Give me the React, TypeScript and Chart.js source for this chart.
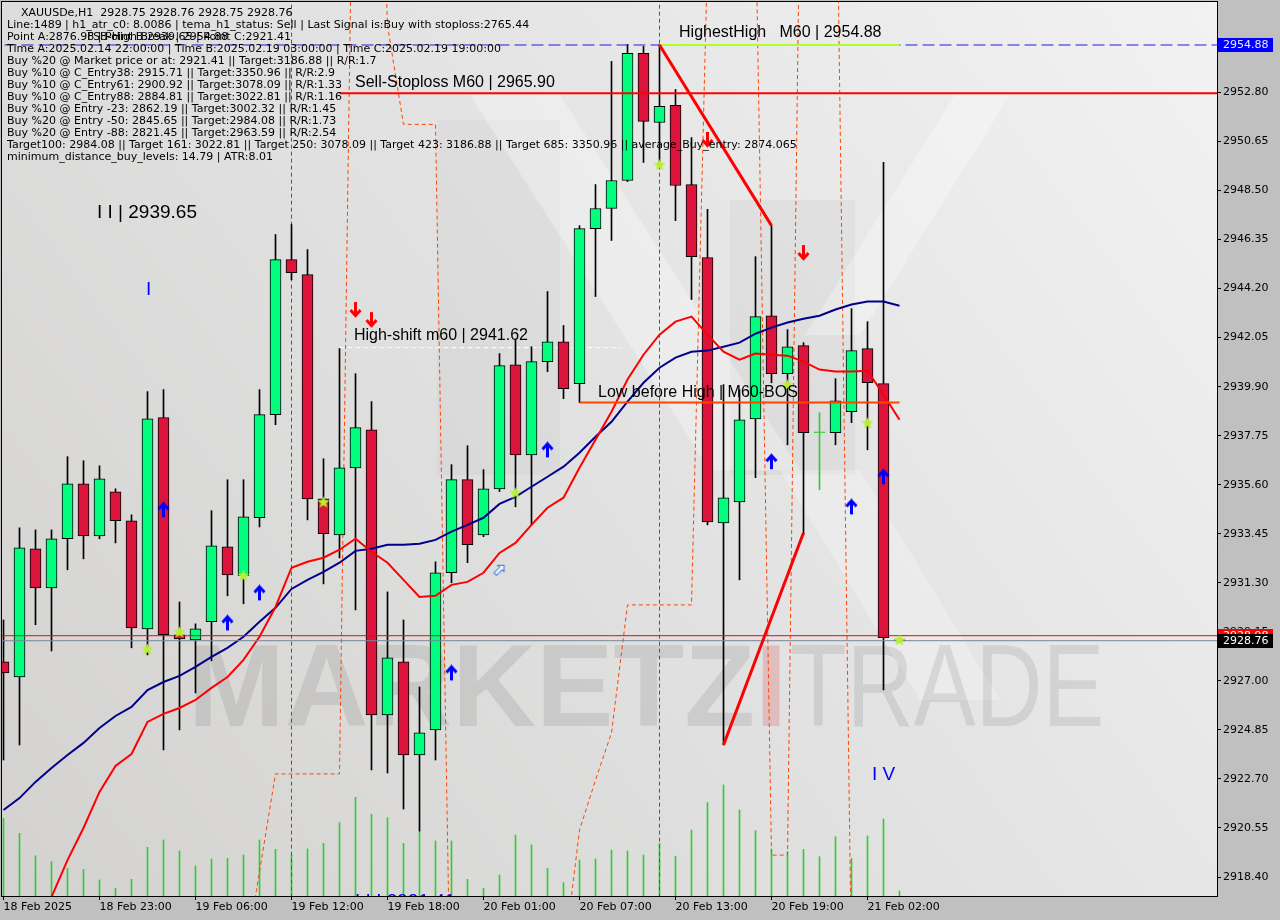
import React, { useEffect, useRef } from "react";
import { Chart, registerables } from "chart.js";

Chart.register(...registerables);

// ---------------- data ----------------
const timeTickIndex = [0, 6, 12, 18, 24, 30, 36, 42, 48, 54];
const timeTickLabels = [
  "18 Feb 2025", "18 Feb 23:00", "19 Feb 06:00", "19 Feb 12:00", "19 Feb 18:00",
  "20 Feb 01:00", "20 Feb 07:00", "20 Feb 13:00", "20 Feb 19:00", "21 Feb 02:00",
];

const priceTicks = [
  2918.4, 2920.55, 2922.7, 2924.85, 2927.0, 2929.15, 2931.3, 2933.45, 2935.6,
  2937.75, 2939.9, 2942.05, 2944.2, 2946.35, 2948.5, 2950.65, 2952.8,
];

const opens = [
  2927.83, 2927.17, 2932.79, 2931.08, 2933.23, 2935.64, 2933.36, 2935.29, 2934.02, 2929.28,
  2938.54, 2929.02, 2928.8, 2929.59, 2932.88, 2931.61, 2934.15, 2938.67, 2945.47, 2944.81,
  2934.98, 2933.4, 2936.34, 2938.01, 2925.51, 2927.83, 2923.75, 2924.85, 2931.74, 2935.82,
  2933.4, 2935.42, 2940.86, 2936.91, 2941.0, 2941.87, 2940.03, 2946.83, 2947.71, 2948.94,
  2954.51, 2951.48, 2952.23, 2948.76, 2945.56, 2933.93, 2934.85, 2938.49, 2943.01, 2940.47,
  2941.7, 2937.88, 2937.88, 2938.8, 2941.57, 2940.03, 2928.75,
];
const highs = [
  2929.67, 2933.71, 2933.62, 2933.62, 2936.83, 2936.65, 2936.43, 2935.42, 2934.28, 2939.68,
  2939.77, 2930.46, 2929.5, 2934.46, 2935.82, 2935.82, 2939.77, 2946.57, 2947.01, 2945.91,
  2936.74, 2941.57, 2940.47, 2939.24, 2930.9, 2929.67, 2926.73, 2932.22, 2936.48, 2937.31,
  2936.26, 2941.35, 2941.96, 2941.65, 2944.07, 2942.58, 2946.96, 2948.76, 2954.16, 2954.91,
  2954.82, 2954.91, 2952.93, 2950.82, 2947.67, 2939.99, 2939.77, 2945.6, 2946.96, 2942.4,
  2941.83, 2938.76, 2940.25, 2943.32, 2942.75, 2949.73, 2928.76,
];
const lows = [
  2923.53, 2924.19, 2929.46, 2928.31, 2931.87, 2932.35, 2933.23, 2933.05, 2928.45, 2928.14,
  2923.97, 2924.85, 2926.47, 2927.88, 2930.73, 2930.38, 2933.75, 2938.23, 2944.59, 2934.06,
  2931.25, 2932.39, 2930.11, 2923.09, 2922.96, 2921.38, 2920.41, 2923.53, 2931.3, 2932.18,
  2933.32, 2935.3, 2934.63, 2933.84, 2940.56, 2939.37, 2939.2, 2943.85, 2946.31, 2948.89,
  2949.73, 2949.55, 2947.18, 2943.72, 2933.84, 2924.19, 2931.43, 2935.91, 2940.07, 2937.35,
  2933.4, 2935.38, 2937.35, 2938.32, 2937.13, 2926.6, 2928.75,
];
const closes = [
  2927.35, 2932.83, 2931.08, 2933.23, 2935.64, 2933.36, 2935.86, 2934.02, 2929.32, 2938.49,
  2929.02, 2928.84, 2929.28, 2932.92, 2931.65, 2934.19, 2938.67, 2945.47, 2944.9, 2934.98,
  2933.45, 2936.34, 2938.1, 2925.51, 2928.01, 2923.75, 2924.72, 2931.74, 2935.82, 2932.97,
  2935.42, 2940.82, 2936.91, 2941.0, 2941.87, 2939.81, 2946.83, 2947.71, 2948.94, 2954.51,
  2951.53, 2952.19, 2948.72, 2945.6, 2933.97, 2935.03, 2938.45, 2942.97, 2940.47, 2941.65,
  2937.88, 2937.88, 2939.28, 2941.48, 2940.07, 2928.89, 2928.76,
];
const tickVolumes = [
  7770, 6270, 4030, 3430, 2770, 2670, 1600, 770, 1670, 4870,
  5600, 4500, 3000, 3700, 3770, 4100, 5600, 4670, 4170, 4700,
  5270, 7330, 9870, 8170, 7830, 5270, 6430, 5500, 5500, 1670,
  770, 2100, 6100, 5100, 2770, 1330, 3600, 3700, 4600, 4500,
  4100, 5270, 3970, 6600, 9330, 11100, 8600, 6530, 4700, 4430,
  4670, 3930, 5930, 3770, 6000, 7700, 500,
];
const maFast = [
  2912.34, 2914.1, 2915.9, 2917.52, 2919.14, 2920.55, 2922.13, 2923.27, 2923.79, 2925.2,
  2925.55, 2925.81, 2926.16, 2926.69, 2927.17, 2927.92, 2928.93, 2930.24, 2931.96, 2932.22,
  2932.4, 2932.75, 2933.23, 2932.66, 2932.18, 2931.43, 2930.68, 2930.73, 2931.21, 2931.34,
  2931.74, 2932.61, 2933.05, 2933.84, 2934.59, 2935.03, 2936.34, 2937.57, 2938.8, 2940.21,
  2941.3, 2942.18, 2942.75, 2942.97, 2942.18, 2941.43, 2941.08, 2941.35, 2941.3, 2941.26,
  2941.0, 2940.65, 2940.56, 2940.56, 2940.6, 2939.55, 2938.45,
];
const maSlow = [
  2921.34, 2921.86, 2922.57, 2923.18, 2923.75, 2924.28, 2924.93, 2925.46, 2925.86, 2926.6,
  2926.95, 2927.22, 2927.61, 2928.05, 2928.45, 2928.93, 2929.59, 2930.2, 2931.03, 2931.43,
  2931.78, 2932.18, 2932.7, 2932.79, 2932.97, 2932.97, 2933.01, 2933.18, 2933.54, 2933.84,
  2934.15, 2934.76, 2935.07, 2935.51, 2935.95, 2936.39, 2937.0, 2937.7, 2938.36, 2939.24,
  2940.07, 2940.73, 2941.17, 2941.43, 2941.48, 2941.65, 2941.83, 2942.22, 2942.49, 2942.71,
  2942.88, 2943.01, 2943.28, 2943.5, 2943.63, 2943.63, 2943.45,
];
const channel = [
  null, null, null, null, null, null, null, null, null, null,
  null, null, null, null, null, 2914.4, 2918.62, 2922.92, 2922.92, 2922.92,
  2922.92, 2922.92, 2972.3, 2975.0, 2955.74, 2951.4, 2951.4, 2951.4, 2909.8, 2905.0,
  2905.0, 2905.0, 2905.0, 2905.0, 2905.0, 2914.67, 2920.46, 2922.65, 2924.72, 2930.33,
  2930.33, 2930.33, 2930.33, 2930.33, 2958.77, 2965.0, 2965.0, 2960.74, 2919.36, 2919.36,
  2973.95, 2970.0, 2966.7, 2914.3, null, null, null,
];

const upArrowIdx = [10, 14, 16, 28, 34, 48, 53, 55];
const upArrowPrice = [2934.5, 2929.54, 2930.86, 2927.35, 2937.13, 2936.61, 2934.63, 2935.95];
const downArrowIdx = [22, 23, 44, 50];
const downArrowPrice = [2943.28, 2942.84, 2950.74, 2945.78];
const starIdx = [9, 11, 15, 20, 32, 41, 49, 54, 56];
const starPrice = [2928.4, 2929.15, 2931.61, 2934.85, 2935.25, 2949.64, 2939.99, 2938.32, 2928.8];
const hollowIdx = [31];
const hollowPrice = [2931.87];

const sessionBreakIdx = [18, 41];
const highestHigh = 2954.88;
const sellStoploss = 2952.76;
const highShift = 2941.61;
const lowBeforeHigh = 2939.2;
const bidPrice = 2928.76;
const redLevel = 2928.98;
const sellTrendIdx = [41, 48];
const sellTrendPrice = [2954.88, 2946.96];
const buyTrendIdx = [45, 50];
const buyTrendPrice = [2924.19, 2933.49];

const infoLines = [
  "XAUUSDe,H1  2928.75 2928.76 2928.75 2928.76",
  "Line:1489 | h1_atr_c0: 8.0086 | tema_h1_status: Sell | Last Signal is:Buy with stoploss:2765.44",
  "Point A:2876.98 | Point B:2939.65 | Point C:2921.41",
  "Time A:2025.02.14 22:00:00 | Time B:2025.02.19 03:00:00 | Time C:2025.02.19 19:00:00",
  "Buy %20 @ Market price or at: 2921.41 || Target:3186.88 || R/R:1.7",
  "Buy %10 @ C_Entry38: 2915.71 || Target:3350.96 || R/R:2.9",
  "Buy %10 @ C_Entry61: 2900.92 || Target:3078.09 || R/R:1.33",
  "Buy %10 @ C_Entry88: 2884.81 || Target:3022.81 || R/R:1.16",
  "Buy %10 @ Entry -23: 2862.19 || Target:3002.32 || R/R:1.45",
  "Buy %20 @ Entry -50: 2845.65 || Target:2984.08 || R/R:1.73",
  "Buy %20 @ Entry -88: 2821.45 || Target:2963.59 || R/R:2.54",
  "Target100: 2984.08 || Target 161: 3022.81 || Target 250: 3078.09 || Target 423: 3186.88 || Target 685: 3350.96 || average_Buy_entry: 2874.065",
  "minimum_distance_buy_levels: 14.79 | ATR:8.01",
];
const overlayInfo = "FSB-High Break | 2954.88";

const chartNotes = [
  { text: "HighestHigh   M60 | 2954.88", idx: 42.22, price: 2955.41, size: 16, color: "#000000" },
  { text: "Sell-Stoploss M60 | 2965.90", idx: 21.97, price: 2953.21, size: 16, color: "#000000" },
  { text: "High-shift m60 | 2941.62", idx: 21.9, price: 2942.12, size: 16, color: "#000000" },
  { text: "Low before High | M60-BOS", idx: 37.16, price: 2939.66, size: 16, color: "#000000" },
  { text: "I I | 2939.65", idx: 5.84, price: 2947.51, size: 19, color: "#000000" },
  { text: "I", idx: 8.9, price: 2944.14, size: 19, color: "#0000FF" },
  { text: "I V", idx: 54.28, price: 2922.87, size: 19, color: "#0000FF" },
  { text: "I I I 2921.41", idx: 21.97, price: 2917.33, size: 19, color: "#0000FF" },
];

// ---------------- helpers ----------------
const X_MIN = -0.09375;
const X_MAX = 75.84375;
const Y_MIN = 2917.567;
const Y_MAX = 2956.765;

function arrowCanvas(color: string, up: boolean) {
  const c = document.createElement("canvas");
  c.width = 13;
  c.height = 17;
  const g = c.getContext("2d")!;
  if (!up) {
    g.translate(0, 17);
    g.scale(1, -1);
  }
  g.strokeStyle = color;
  g.lineWidth = 3;
  g.beginPath();
  g.moveTo(6.5, 3);
  g.lineTo(6.5, 16);
  g.stroke();
  g.beginPath();
  g.moveTo(1.5, 8);
  g.lineTo(6.5, 2.5);
  g.lineTo(11.5, 8);
  g.stroke();
  return c;
}

function starCanvas() {
  const c = document.createElement("canvas");
  c.width = 14;
  c.height = 14;
  const g = c.getContext("2d")!;
  g.fillStyle = "#B8F02C";
  g.beginPath();
  for (let k = 0; k < 10; k++) {
    const r = k % 2 === 0 ? 6.5 : 2.8;
    const a = -Math.PI / 2 + (k * Math.PI) / 5;
    const px = 7 + r * Math.cos(a);
    const py = 7.5 + r * Math.sin(a);
    if (k === 0) g.moveTo(px, py);
    else g.lineTo(px, py);
  }
  g.closePath();
  g.fill();
  return c;
}

function hollowArrowCanvas() {
  const c = document.createElement("canvas");
  c.width = 16;
  c.height = 16;
  const g = c.getContext("2d")!;
  g.translate(8, 8);
  g.rotate(Math.PI / 4);
  const pts = [[0, -6.5], [4.5, -2], [1.8, -2], [1.8, 6], [-1.8, 6], [-1.8, -2], [-4.5, -2]];
  g.beginPath();
  pts.forEach((p, k) => (k ? g.lineTo(p[0], p[1]) : g.moveTo(p[0], p[1])));
  g.closePath();
  g.fillStyle = "#F4F8FF";
  g.fill();
  g.strokeStyle = "#3A78D8";
  g.lineWidth = 1;
  g.stroke();
  return c;
}

const bgPlugin = {
  id: "mtBackground",
  beforeDraw(chart: any) {
    const { ctx, chartArea: a } = chart;
    ctx.save();
    ctx.fillStyle = "#C0C0C0";
    ctx.fillRect(0, 0, chart.width, chart.height);
    const g = ctx.createLinearGradient(a.left, a.bottom, a.right, a.top);
    g.addColorStop(0, "#D3D2D0");
    g.addColorStop(0.45, "#E0E0E0");
    g.addColorStop(1, "#F2F2F2");
    ctx.fillStyle = g;
    ctx.fillRect(a.left, a.top, a.right - a.left, a.bottom - a.top);
    ctx.beginPath();
    ctx.rect(a.left, a.top, a.right - a.left, a.bottom - a.top);
    ctx.clip();
    const poly = (pts: number[][], fill: string) => {
      ctx.beginPath();
      pts.forEach((p, k) => (k ? ctx.lineTo(p[0], p[1]) : ctx.moveTo(p[0], p[1])));
      ctx.closePath();
      ctx.fillStyle = fill;
      ctx.fill();
    };
    poly([[437, 120], [560, 120], [560, 475], [437, 475]], "rgba(0,0,0,0.025)");
    poly([[730, 200], [855, 200], [855, 475], [730, 475]], "rgba(0,0,0,0.03)");
    poly([[470, 95], [560, 95], [800, 470], [710, 470]], "rgba(255,255,255,0.3)");
    poly([[955, 95], [1010, 95], [860, 335], [805, 335]], "rgba(255,255,255,0.3)");
    poly([[780, 470], [860, 470], [1000, 700], [920, 700]], "rgba(255,255,255,0.25)");
    // watermark
    ctx.textBaseline = "alphabetic";
    ctx.textAlign = "left";
    ctx.font = 'bold 116px "Liberation Sans"';
    ctx.fillStyle = "rgba(105,105,105,0.17)";
    ctx.fillText("MARKETZ", 188, 726);
    const w = ctx.measureText("MARKETZ").width;
    ctx.fillStyle = "rgba(225,95,95,0.28)";
    ctx.fillText("I", 188 + w, 726);
    ctx.save();
    ctx.translate(790, 726);
    ctx.scale(0.8, 1);
    ctx.font = '116px "Liberation Sans"';
    ctx.fillStyle = "rgba(105,105,105,0.16)";
    ctx.fillText("TRADE", 0, 0);
    ctx.restore();
    ctx.restore();
  },
};

const overlayPlugin = {
  id: "mtOverlay",
  afterDatasetsDraw(chart: any) {
    const { ctx, chartArea: a, scales } = chart;
    const xs = scales.x;
    const ys = scales.y;
    ctx.save();
    ctx.beginPath();
    ctx.rect(a.left, a.top, a.right - a.left, a.bottom - a.top);
    ctx.clip();
    ctx.textBaseline = "middle";
    ctx.textAlign = "left";
    for (const n of chartNotes) {
      ctx.font = `${n.size}px "Liberation Sans"`;
      ctx.fillStyle = n.color;
      ctx.fillText(n.text, xs.getPixelForValue(n.idx), ys.getPixelForValue(n.price));
    }
    ctx.font = '11px "DejaVu Sans"';
    ctx.fillStyle = "#000000";
    infoLines.forEach((t, k) => ctx.fillText(t, k === 0 ? 21 : 7, 13 + 12.05 * k));
    ctx.fillText(overlayInfo, 87, 37);
    ctx.restore();
  },
  afterDraw(chart: any) {
    const { ctx, chartArea: a, scales } = chart;
    const ys = scales.y;
    ctx.save();
    ctx.strokeStyle = "#000000";
    ctx.lineWidth = 1;
    ctx.strokeRect(a.left - 0.5, a.top - 0.5, a.right - a.left + 1, a.bottom - a.top + 1);
    ctx.font = '11px "DejaVu Sans"';
    ctx.textBaseline = "middle";
    ctx.textAlign = "left";
    const boxes = [
      { price: redLevel, bg: "#FF0000", fg: "#FFFFFF" },
      { price: bidPrice, bg: "#000000", fg: "#FFFFFF" },
      { price: highestHigh, bg: "#0000FF", fg: "#E8E8FF" },
    ];
    for (const b of boxes) {
      const y = Math.round(ys.getPixelForValue(b.price));
      ctx.fillStyle = b.bg;
      ctx.fillRect(a.right + 1, y - 7, 55, 14);
      ctx.fillStyle = b.fg;
      ctx.fillText(b.price.toFixed(2), a.right + 6, y);
    }
    ctx.restore();
  },
};

export default function App() {
  const ref = useRef<HTMLCanvasElement>(null);

  useEffect(() => {
    if (!ref.current) return;
    const idxs = opens.map((_, i) => i);
    const isDoji = (i: number) => opens[i] === closes[i];
    const dojiColor = "#33CC33";
    const upImg = arrowCanvas("#0000FF", true);
    const downImg = arrowCanvas("#FF0000", false);
    const starImg = starCanvas();
    const hollowImg = hollowArrowCanvas();

    const hLine = (price: number, x0: number, x1: number, color: string, width: number, dash: number[], order: number) => ({
      type: "line",
      data: [{ x: x0, y: price }, { x: x1, y: price }],
      borderColor: color,
      borderWidth: width,
      borderDash: dash,
      pointRadius: 0,
      order,
    });

    const datasets: any[] = [
      {
        type: "bar",
        label: "volume",
        data: idxs.map((i) => ({ x: i, y: tickVolumes[i] })),
        yAxisID: "yv",
        backgroundColor: "#32CD32",
        barThickness: 1,
        grouped: false,
        order: 100,
      },
      {
        type: "line",
        label: "channel",
        data: idxs.map((i) => ({ x: i, y: channel[i] })),
        borderColor: "#FF4500",
        borderWidth: 1,
        borderDash: [4, 3],
        pointRadius: 0,
        spanGaps: false,
        order: 90,
      },
      ...sessionBreakIdx.map((v) => ({
        type: "line",
        data: [{ x: v, y: 2900 }, { x: v, y: 2970 }],
        borderColor: "#C71585",
        borderWidth: 1,
        borderDash: [4, 3],
        pointRadius: 0,
        order: 85,
      })),
      hLine(highShift, 21, 38.6, "#FFFFFF", 1, [5, 3], 75),
      {
        type: "bar",
        label: "wick",
        data: idxs.map((i) => ({ x: i, y: [lows[i], highs[i]] })),
        backgroundColor: idxs.map((i) => (isDoji(i) ? dojiColor : "#000000")),
        barThickness: 1,
        minBarLength: 1,
        grouped: false,
        order: 50,
      },
      {
        type: "bar",
        label: "body",
        data: idxs.map((i) => ({ x: i, y: [Math.min(opens[i], closes[i]), Math.max(opens[i], closes[i])] })),
        backgroundColor: idxs.map((i) => (isDoji(i) ? dojiColor : closes[i] >= opens[i] ? "#00FF7F" : "#DC143C")),
        borderColor: idxs.map((i) => (isDoji(i) ? dojiColor : "#000000")),
        borderWidth: 1,
        borderSkipped: false,
        barThickness: 11,
        minBarLength: 1,
        grouped: false,
        order: 49,
      },
      {
        type: "line",
        label: "ma fast",
        data: idxs.map((i) => ({ x: i, y: maFast[i] })),
        borderColor: "#FF0000",
        borderWidth: 2,
        pointRadius: 0,
        order: 40,
      },
      {
        type: "line",
        label: "ma slow",
        data: idxs.map((i) => ({ x: i, y: maSlow[i] })),
        borderColor: "#00008B",
        borderWidth: 2,
        pointRadius: 0,
        order: 41,
      },
      hLine(redLevel, -1, 77, "#FF0000", 1, [], 36),
      hLine(bidPrice, -1, 77, "#778899", 1, [], 35),
      hLine(highestHigh, -1, 77, "#1E1EE0", 1, [12, 5], 34),
      hLine(highestHigh, 41, 56, "#ADFF2F", 2, [], 33),
      hLine(sellStoploss, 21, 77, "#FF0000", 2, [], 32),
      hLine(lowBeforeHigh, 36, 56, "#FF4500", 2, [], 31),
      {
        type: "line",
        data: sellTrendIdx.map((v, k) => ({ x: v, y: sellTrendPrice[k] })),
        borderColor: "#FF0000",
        borderWidth: 3,
        pointRadius: 0,
        order: 20,
      },
      {
        type: "line",
        data: buyTrendIdx.map((v, k) => ({ x: v, y: buyTrendPrice[k] })),
        borderColor: "#FF0000",
        borderWidth: 3,
        pointRadius: 0,
        order: 20,
      },
      {
        type: "scatter",
        data: upArrowIdx.map((v, k) => ({ x: v, y: upArrowPrice[k] })),
        pointStyle: upImg,
        pointRadius: 7,
        order: 10,
      },
      {
        type: "scatter",
        data: downArrowIdx.map((v, k) => ({ x: v, y: downArrowPrice[k] })),
        pointStyle: downImg,
        pointRadius: 7,
        order: 10,
      },
      {
        type: "scatter",
        data: starIdx.map((v, k) => ({ x: v, y: starPrice[k] })),
        pointStyle: starImg,
        pointRadius: 7,
        order: 9,
      },
      {
        type: "scatter",
        data: hollowIdx.map((v, k) => ({ x: v, y: hollowPrice[k] })),
        pointStyle: hollowImg,
        pointRadius: 7,
        order: 9,
      },
    ];

    const font = { family: '"DejaVu Sans"', size: 11 };

    const chart = new Chart(ref.current, {
      type: "bar",
      data: { datasets },
      options: {
        responsive: false,
        maintainAspectRatio: false,
        animation: false,
        devicePixelRatio: 1,
        events: [],
        layout: { autoPadding: false, padding: { left: 2, top: 2, right: 0, bottom: 0 } },
        plugins: { legend: { display: false }, tooltip: { enabled: false } },
        scales: {
          x: {
            type: "linear",
            min: X_MIN,
            max: X_MAX,
            offset: false,
            afterBuildTicks: (s: any) => {
              s.ticks = timeTickIndex.map((v) => ({ value: v }));
            },
            afterFit: (s: any) => {
              s.height = 24;
              s.paddingLeft = 0;
              s.paddingRight = 0;
            },
            ticks: {
              autoSkip: false,
              maxRotation: 0,
              minRotation: 0,
              align: "start",
              padding: 1,
              color: "#000000",
              font,
              callback: (v: any) => {
                const k = timeTickIndex.indexOf(Number(v));
                return k >= 0 ? timeTickLabels[k] : "";
              },
            },
            grid: { offset: false, drawOnChartArea: false, drawTicks: true, tickLength: 4, color: "#000000" },
            border: { display: true, color: "#000000" },
          },
          y: {
            type: "linear",
            position: "right",
            min: Y_MIN,
            max: Y_MAX,
            beginAtZero: false,
            afterBuildTicks: (s: any) => {
              s.ticks = priceTicks.map((v) => ({ value: v }));
            },
            afterFit: (s: any) => {
              s.width = 63;
              s.paddingTop = 0;
              s.paddingBottom = 0;
            },
            ticks: {
              padding: 2,
              color: "#000000",
              font,
              callback: (v: any) => Number(v).toFixed(2),
            },
            grid: { drawOnChartArea: false, drawTicks: true, tickLength: 4, color: "#000000" },
            border: { display: true, color: "#000000" },
          },
          yv: {
            type: "linear",
            display: false,
            min: 0,
            max: 89400,
          },
        },
      } as any,
      plugins: [bgPlugin, overlayPlugin],
    });
    return () => chart.destroy();
  }, []);

  return (
    <div style={{ position: "fixed", left: 0, top: 0, width: 1280, height: 920, background: "#C0C0C0" }}>
      <canvas ref={ref} width={1280} height={920} style={{ display: "block", width: 1280, height: 920 }} />
    </div>
  );
}
